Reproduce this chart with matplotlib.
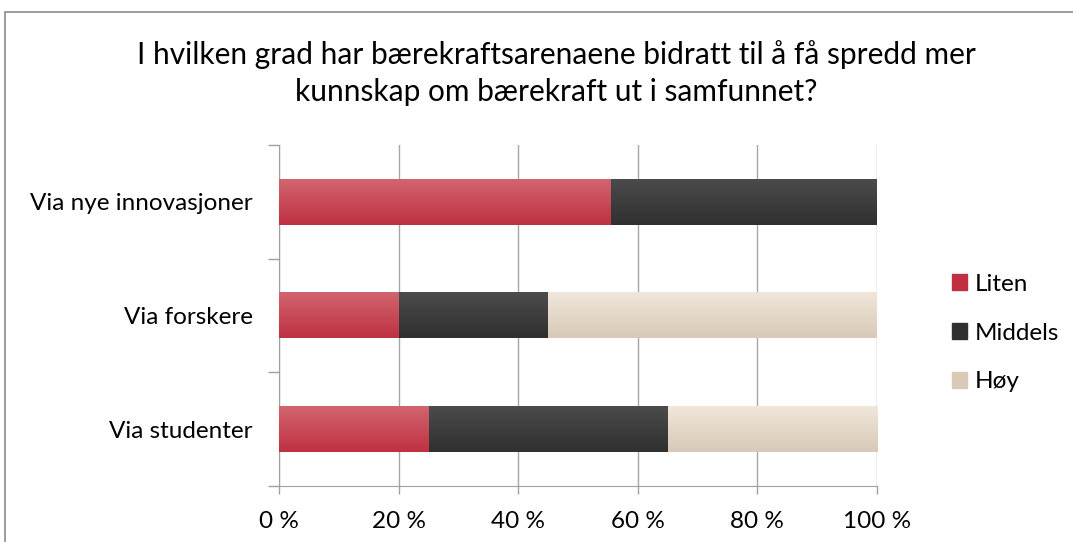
import numpy as np
import matplotlib.pyplot as plt
from matplotlib.colors import LinearSegmentedColormap
from matplotlib.patches import Rectangle

plt.rcParams['font.family'] = ['Lato', 'DejaVu Sans']

categories = ['Via nye innovasjoner', 'Via forskere', 'Via studenter']
series = ['Liten', 'Middels', 'Høy']
liten = [55.6, 20, 25]
middels = [44.4, 25, 40]
hoy = [0, 55, 35]
xticks = [0, 20, 40, 60, 80, 100]
xticklabels = ['0 %', '20 %', '40 %', '60 %', '80 %', '100 %']

colors = {'Liten': ('#D2646F', '#BF3142'),
          'Middels': ('#4B4B4B', '#303030'),
          'Høy': ('#F0E6DA', '#D8CAB7')}

fig = plt.figure(figsize=(10.73, 5.42), dpi=100)
ax = fig.add_axes([279/1073, 1-486/542, 598/1073, 341/542])

ypos = np.arange(len(categories))
left = np.zeros(len(categories))
grad = np.linspace(0, 1, 64).reshape(-1, 1)
for name, vals in zip(series, [liten, middels, hoy]):
    top, bot = colors[name]
    bars = ax.barh(ypos, vals, left=left, height=0.4, color=bot, label=name, zorder=2)
    cmap = LinearSegmentedColormap.from_list(name, [top, bot])
    for b in bars:
        if b.get_width() <= 0:
            continue
        x0, y0, w, h = b.get_x(), b.get_y(), b.get_width(), b.get_height()
        # y axis inverted: top of bar is y0
        ax.imshow(grad, cmap=cmap, aspect='auto', extent=(x0, x0 + w, y0 + h, y0),
                  zorder=3, interpolation='bicubic')
    left += np.array(vals)

ax.set_xlim(0, 100)
ax.set_ylim(len(categories) - 0.5, -0.5)
ax.set_xticks(xticks)
ax.set_xticklabels(xticklabels, fontsize=17.5)
ax.set_yticks(ypos)
ax.set_yticklabels(categories, fontsize=17.5)
ax.set_yticks(np.arange(len(categories) + 1) - 0.5, minor=True)
ax.tick_params(axis='y', which='major', length=0, pad=19)
ax.tick_params(axis='y', which='minor', length=8, color='#A0A0A0', width=1)
ax.tick_params(axis='x', length=6, color='#A0A0A0', width=1, pad=12)
ax.grid(axis='x', color='#A6A6A6', linewidth=1, zorder=0)
ax.set_axisbelow(True)
for s in ['top', 'right']:
    ax.spines[s].set_visible(False)
for s in ['left', 'bottom']:
    ax.spines[s].set_color('#A0A0A0')

handles = [Rectangle((0, 0), 1, 1, color=colors[n][1]) for n in series]
fig.legend(handles, series, loc='center left', bbox_to_anchor=(940/1073, 1-333/542),
           frameon=False, fontsize=17.5, handlelength=0.62, handleheight=0.62,
           handletextpad=0.33, labelspacing=1.15, borderpad=0)

fig.text(556/1073, 1-73/542,
         'I hvilken grad har bærekraftsarenaene bidratt til å få spredd mer\nkunnskap om bærekraft ut i samfunnet?',
         ha='center', va='center', fontsize=21.5, linespacing=1.4)

fig.patches.append(Rectangle((5/1073, -0.1), 1.1, 1 - 12/542 + 0.1, transform=fig.transFigure,
                             fill=False, edgecolor='#8C8C8C', linewidth=1.2))

fig.savefig('out.png', dpi=100)
